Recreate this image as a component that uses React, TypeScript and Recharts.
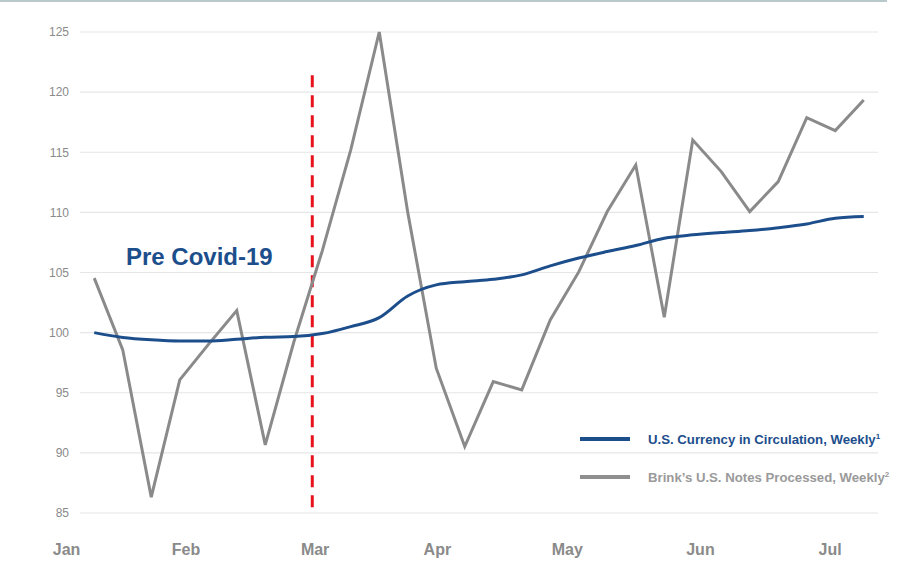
import React from "react";
import {
  LineChart,
  Line,
  XAxis,
  YAxis,
  CartesianGrid,
  ReferenceLine,
} from "recharts";

// Weekly index (Jan 3 2020 = 100)
const weeks = [
  0, 1, 2, 3, 4, 5, 6, 7, 8, 9, 10, 11, 12, 13, 14, 15, 16, 17, 18, 19, 20, 21,
  22, 23, 24, 25, 26, 27,
];
const currencyInCirculation = [
  100.0, 99.6, 99.4, 99.3, 99.3, 99.45, 99.62, 99.67, 99.92, 100.5, 101.25,
  103.05, 103.97, 104.24, 104.44, 104.8, 105.55, 106.2, 106.74, 107.24, 107.85,
  108.13, 108.32, 108.49, 108.73, 109.04, 109.51, 109.65,
];
const notesProcessed = [
  104.53, 98.57, 86.32, 96.07, 99.0, 101.83, 90.67, 99.2, 106.8, 115.2, 125.0,
  110.0, 97.04, 90.53, 95.93, 95.24, 101.06, 105.05, 110.07, 113.94, 101.28,
  116.02, 113.39, 110.07, 112.56, 117.88, 116.8, 119.35,
];
const monthLabels = ["Jan", "Feb", "Mar", "Apr", "May", "Jun", "Jul"];
const monthPositions = [-0.97, 3.22, 7.75, 12.04, 16.6, 21.27, 25.82];
const yTicks = [85, 90, 95, 100, 105, 110, 115, 120, 125];
const covidMarker = 7.65;
const covidMarkerTop = 121.4;
const seriesNames = [
  "U.S. Currency in Circulation, Weekly",
  "Brink\u2019s U.S. Notes Processed, Weekly",
];
const footnotes = ["1", "2"];
const annotationText = "Pre Covid-19";

const BLUE = "#1d4e8c";
const GRAY = "#8a8a8a";
const RED = "#e8121c";
const FONT = "'Liberation Sans', Arial, Helvetica, sans-serif";

const data = weeks.map((w, i) => ({
  week: w,
  currency: currencyInCirculation[i],
  notes: notesProcessed[i],
}));

const monthByPos: Record<string, string> = {};
monthPositions.forEach((p, i) => {
  monthByPos[String(p)] = monthLabels[i];
});

const MonthTick = (props: any) => {
  const { x, y, payload } = props;
  return (
    <text
      x={x}
      y={y}
      dy="0.71em"
      textAnchor="middle"
      fill={GRAY}
      fontFamily={FONT}
      fontSize={16}
      fontWeight="bold"
    >
      {monthByPos[String(payload.value)] ?? ""}
    </text>
  );
};

const LegendBox = () => {
  const colors = [BLUE, "#8f8f8f"];
  const textColors = [BLUE, "#9a9a9a"];
  return (
    <div
      style={{
        position: "absolute",
        left: 580,
        top: 429,
        fontFamily: FONT,
      }}
    >
      {seriesNames.map((name, i) => (
        <div
          key={name}
          style={{
            display: "flex",
            alignItems: "center",
            height: 20,
            marginBottom: i === 0 ? 18 : 0,
          }}
        >
          <div
            style={{
              width: 50,
              height: 4,
              background: colors[i],
              marginRight: 18,
            }}
          />
          <span
            style={{
              color: textColors[i],
              fontSize: 13.2,
              fontWeight: "bold",
              whiteSpace: "nowrap",
            }}
          >
            {name}
            <sup style={{ fontSize: 8, verticalAlign: "top", lineHeight: "10px" }}>
              {footnotes[i]}
            </sup>
          </span>
        </div>
      ))}
    </div>
  );
};

export default function App() {
  return (
    <div
      style={{
        position: "absolute",
        left: 0,
        top: 0,
        width: 899,
        height: 568,
        background: "#ffffff",
        overflow: "hidden",
      }}
    >
      <div
        style={{
          position: "absolute",
          left: 0,
          top: 0,
          width: 887,
          height: 2,
          background: "#b9c9cb",
        }}
      />
      <LineChart
        width={899}
        height={568}
        data={data}
        margin={{ top: 32, right: 21, bottom: 0, left: 0 }}
      >
        <CartesianGrid vertical={false} stroke="#e6e6e6" strokeWidth={1.2} />
        <XAxis
          dataKey="week"
          type="number"
          domain={[-0.5, 27.5]}
          allowDataOverflow
          ticks={monthPositions}
          interval={0}
          height={55}
          axisLine={false}
          tickLine={false}
          tickMargin={25}
          tick={<MonthTick />}
        />
        <YAxis
          type="number"
          domain={[85, 125]}
          ticks={yTicks}
          interval={0}
          width={80}
          axisLine={false}
          tickLine={false}
          tickMargin={5}
          tick={{ fill: GRAY, fontSize: 12, fontFamily: FONT }}
        />
        <ReferenceLine
          segment={[
            { x: covidMarker, y: covidMarkerTop },
            { x: covidMarker, y: 85 },
          ]}
          stroke={RED}
          strokeWidth={3}
          strokeDasharray="12 8"
          ifOverflow="visible"
        />
        <Line
          dataKey="notes"
          type="linear"
          stroke={GRAY}
          strokeWidth={3}
          dot={false}
          activeDot={false}
          isAnimationActive={false}
        />
        <Line
          dataKey="currency"
          type="monotone"
          stroke={BLUE}
          strokeWidth={3}
          dot={false}
          activeDot={false}
          isAnimationActive={false}
        />
      </LineChart>
      <LegendBox />
      <div
        style={{
          position: "absolute",
          left: 126,
          top: 245,
          fontFamily: FONT,
          fontSize: 24,
          lineHeight: "24px",
          fontWeight: "bold",
          color: BLUE,
          whiteSpace: "nowrap",
        }}
      >
        {annotationText}
      </div>
    </div>
  );
}
